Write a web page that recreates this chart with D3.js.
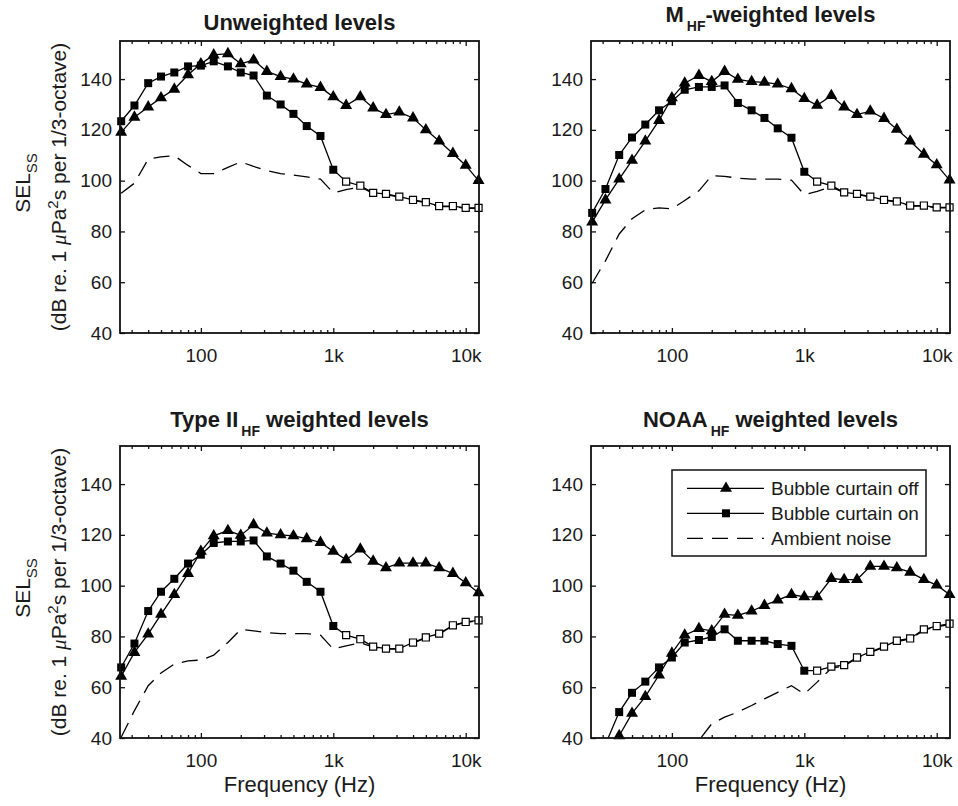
<!DOCTYPE html>
<html>
<head>
<meta charset="utf-8">
<script src="https://d3js.org/d3.v7.min.js"></script>
<style>
body { margin: 0; background: #fff; }
svg { font-family: "Liberation Sans", Arial, Helvetica, sans-serif; fill: #1a1a1a; }
.tick text { font-size: 19px; fill: #1a1a1a; }
.tick line { stroke: #111; stroke-width: 1.3; }
</style>
</head>
<body>
<div id="chart"></div>
<script>
// 1/3-octave band centre frequencies (Hz)
var bands = [25, 31.5, 40, 50, 63, 80, 100, 125, 160, 200, 250, 315, 400, 500, 630, 800,
             1000, 1250, 1600, 2000, 2500, 3150, 4000, 5000, 6300, 8000, 10000, 12500];

// first band where the "on" curve is not above ambient (open squares)
var firstOpenBand = 1250;

// Unweighted levels
var unwOff = [119, 125, 129, 132.6, 136, 141.7, 146, 149.5, 150, 146, 147.5, 143, 141, 140, 138, 136.7,
              133, 129.6, 133, 128.6, 126, 127, 124.7, 120, 115.6, 110.7, 106, 100];
var unwOn  = [123.4, 129.6, 138.4, 141, 142.6, 145, 145.3, 147, 145, 142.6, 141.4, 133.5, 130, 126.3, 121.5, 117.6,
              104.3, 99.6, 98, 95.2, 94.8, 93.7, 92.4, 91.5, 90, 90, 89.3, 89.3];
var unwAmb = [95, 99, 108.5, 109.4, 109.8, 106, 102.8, 102.8, 105.2, 107.4, 105.6, 104, 102.8, 102.2, 101.5, 100.6,
              95.2, 96.5, 97.5, 95, 94.5, 93.5, 92.2, 91.3, 89.8, 89.8, 89.1, 89.1];

// M_HF-weighted levels
var mhfOff = [83.7, 92.4, 100.6, 108, 115.6, 123.7, 132.6, 138.4, 141.4, 139, 143, 139.9, 139, 138.7, 138, 136.2,
              132.3, 129.7, 133.5, 129, 126, 127.4, 124.5, 120.2, 115.6, 110.4, 106.2, 100.2];
var mhfOn  = [87.3, 96.7, 110.1, 117, 122.1, 127.7, 131.3, 135.8, 136.9, 136.9, 137.5, 130.6, 127.7, 124.7, 120.6, 116.9,
              103.5, 99.6, 98, 95.4, 94.8, 93.7, 92.4, 91.8, 90.2, 90.2, 89.5, 89.5];
var mhfAmb = [59.6, 68.4, 79, 85, 88.5, 89.3, 88.9, 92.2, 96, 102, 101.7, 101, 100.6, 100.6, 100.6, 100.2,
              94.5, 95.8, 97.6, 95.2, 94.6, 93.5, 92.2, 91.6, 90, 90, 89.3, 89.3];

// Type II_HF weighted levels
var t2Off = [64.3, 73.7, 80.9, 88.7, 96.5, 104.8, 113.5, 119.6, 121.7, 119.8, 124, 120.7, 120, 119.6, 118.5, 117,
             113.5, 110.2, 114.4, 109.6, 107, 108.9, 108.9, 108.9, 107, 104.8, 101.1, 97.2];
var t2On  = [67.8, 77.2, 90, 97.6, 102.7, 108.7, 112.2, 116.8, 117.4, 117.4, 117.8, 111.5, 108.7, 105.9, 101.5, 97.6,
             84.1, 80.5, 78.9, 76, 75.2, 75.2, 77.6, 79.6, 81.1, 84.4, 85.7, 86.3];
var t2Amb = [40.3, 50.8, 60.6, 65.6, 69.1, 70.4, 70.7, 72.6, 77.6, 82.8, 82.2, 81.5, 81.1, 81.1, 81.1, 80.5,
             75, 76.3, 77.5, 75.8, 75, 75, 77.4, 79.4, 80.9, 84.2, 85.5, 86.1];

// NOAA_HF weighted levels (null = not given, values < 40 fall below the axis)
var noaaOff = [null, 32, 40.9, 49.7, 56.3, 64.8, 73.4, 80.5, 83.1, 82.2, 88.7, 88.3, 90, 92.2, 94.3, 96.5,
               95.6, 95.6, 102.8, 102.4, 102.4, 107.6, 107.6, 107, 105.3, 102.4, 100.2, 96.5];
var noaaOn  = [null, 37.5, 50.2, 57.8, 62.2, 67.8, 71.7, 77.6, 78.6, 79.8, 82.8, 78.3, 78.3, 78.3, 77, 76.3,
               66.5, 66.5, 68.1, 68.7, 71.7, 73.9, 76, 78.3, 79.2, 82.8, 84.1, 85];
var noaaAmb = [null, null, null, null, null, null, null, 33, 39, 45.6, 48.2, 50.2, 52.8, 55.4, 58, 60.6,
               57.3, 62, 67.5, 68.4, 71.4, 73.6, 75.8, 78, 79, 82.5, 83.8, 84.7];

// axis ticks
var xTicks = [100, 1000, 10000];
var xTickLabels = ["100", "1k", "10k"];
var yTicks = [40, 60, 80, 100, 120, 140];
var xDomain = [24.5, 12600];
var yDomain = [40, 155];

var legendLabels = ["Bubble curtain off", "Bubble curtain on", "Ambient noise"];

var W = 958, H = 806;
var pw = 359, ph = 292;

var panels = [
	{pre: "Unweighted levels", sub: "", post: "", off: unwOff, on: unwOn, amb: unwAmb,
	 left: 120, top: 41, ylab: true, xlab: false, legend: false},
	{pre: "M", sub: "HF", post: "-weighted levels", off: mhfOff, on: mhfOn, amb: mhfAmb,
	 left: 591, top: 41, ylab: false, xlab: false, legend: false},
	{pre: "Type II", sub: "HF", post: " weighted levels", off: t2Off, on: t2On, amb: t2Amb,
	 left: 120, top: 446, ylab: true, xlab: true, legend: false},
	{pre: "NOAA", sub: "HF", post: " weighted levels", off: noaaOff, on: noaaOn, amb: noaaAmb,
	 left: 591, top: 446, ylab: false, xlab: true, legend: true}
];

var svg = d3.select("#chart").append("svg")
	.attr("width", W)
	.attr("height", H);

svg.append("rect").attr("width", W).attr("height", H).attr("fill", "#fff");

panels.forEach(function(p, i){ drawPanel(p, i); });

function series(vals){
	return bands.map(function(f, i){ return {f: f, v: vals[i]}; });
}

function drawPanel(p, idx){
	var g = svg.append("g")
		.attr("transform", "translate(" + p.left + "," + p.top + ")");

	var x = d3.scaleLog().domain(xDomain).range([0, pw]);
	var y = d3.scaleLinear().domain(yDomain).range([ph, 0]);

	// clip for the lines (markers stay unclipped like matlab)
	var clipId = "clip" + idx;
	g.append("clipPath").attr("id", clipId)
	  .append("rect").attr("width", pw).attr("height", ph);

	// minor log ticks
	var minor = x.ticks().filter(function(d){ return xTicks.indexOf(d) < 0; });

	// bottom + top axes
	g.append("g").attr("transform", "translate(0," + ph + ")")
		.call(d3.axisBottom(x).tickValues(xTicks)
			.tickFormat(function(d, i){ return xTickLabels[i]; })
			.tickSize(-5).tickPadding(15.5));
	g.append("g").attr("transform", "translate(0," + ph + ")")
		.call(d3.axisBottom(x).tickValues(minor).tickFormat("").tickSize(-3));
	g.append("g")
		.call(d3.axisTop(x).tickValues(xTicks).tickFormat("").tickSize(-5));
	g.append("g")
		.call(d3.axisTop(x).tickValues(minor).tickFormat("").tickSize(-3));

	// left + right axes
	g.append("g")
		.call(d3.axisLeft(y).tickValues(yTicks).tickSize(-5).tickPadding(8));
	g.append("g").attr("transform", "translate(" + pw + ",0)")
		.call(d3.axisRight(y).tickValues(yTicks).tickFormat("").tickSize(-5));

	g.selectAll(".domain").remove();

	var offData = series(p.off), onData = series(p.on), ambData = series(p.amb);

	var line = d3.line()
		.defined(function(d){ return d.v != null; })
		.x(function(d){ return x(d.f); })
		.y(function(d){ return y(d.v); });

	var plot = g.append("g");
	var lines = plot.append("g").attr("clip-path", "url(#" + clipId + ")");

	lines.append("path").datum(offData)
		.attr("d", line).attr("fill", "none")
		.attr("stroke", "#000").attr("stroke-width", 1.3);
	lines.append("path").datum(onData)
		.attr("d", line).attr("fill", "none")
		.attr("stroke", "#000").attr("stroke-width", 1.3);
	lines.append("path").datum(ambData)
		.attr("d", line).attr("fill", "none")
		.attr("stroke", "#000").attr("stroke-width", 1.3)
		.attr("stroke-dasharray", "16,9");

	var visible = function(d){ return d.v != null && d.v >= yDomain[0]; };

	// triangles
	plot.selectAll(".tri").data(offData.filter(visible)).enter()
		.append("path")
		  .attr("class", "tri")
		  .attr("transform", function(d){ return "translate(" + x(d.f) + "," + y(d.v) + ")"; })
		  .attr("d", d3.symbol().type(d3.symbolTriangle).size(62))
		  .attr("fill", "#000");

	// squares, open ones drawn white
	plot.selectAll(".sq").data(onData.filter(visible)).enter()
		.append("path")
		  .attr("class", "sq")
		  .attr("transform", function(d){ return "translate(" + x(d.f) + "," + y(d.v) + ")"; })
		  .attr("d", function(d){
			return d3.symbol().type(d3.symbolSquare).size(d.f >= firstOpenBand ? 50 : 64)();
		  })
		  .attr("fill", function(d){ return d.f >= firstOpenBand ? "#fff" : "#000"; })
		  .attr("stroke", "#000")
		  .attr("stroke-width", function(d){ return d.f >= firstOpenBand ? 1.2 : 0; });

	// frame
	g.append("rect")
		.attr("width", pw).attr("height", ph)
		.attr("fill", "none").attr("stroke", "#111").attr("stroke-width", 1.8);

	// title
	var t = g.append("text")
		.attr("x", pw / 2)
		.attr("y", p.sub ? -19 : -11)
		.attr("text-anchor", "middle")
		.style("font-size", "22px")
		.style("font-weight", "bold");
	t.append("tspan").text(p.pre);
	if(p.sub){
		t.append("tspan").attr("dx", 3).attr("dy", 9).style("font-size", "14px").text(p.sub);
		t.append("tspan").attr("dy", -9).text(p.post);
	}

	// y label
	if(p.ylab){
		var l1 = g.append("text")
			.attr("transform", "translate(" + (30 - p.left) + "," + (ph / 2 - 4) + ") rotate(-90)")
			.attr("text-anchor", "middle")
			.style("font-size", "21px");
		l1.append("tspan").text("SEL");
		l1.append("tspan").attr("dy", 7).style("font-size", "15px").text("SS");

		var l2 = g.append("text")
			.attr("transform", "translate(" + (65.5 - p.left) + "," + (ph / 2) + ") rotate(-90)")
			.attr("text-anchor", "middle")
			.style("font-size", "21px");
		l2.append("tspan").text("(dB re. 1 ");
		l2.append("tspan").style("font-family", "'Liberation Serif', serif")
			.style("font-style", "italic").text("\u03bc");
		l2.append("tspan").text("Pa");
		l2.append("tspan").attr("dy", -8).style("font-size", "15px").text("2");
		l2.append("tspan").attr("dy", 8).text("s per 1/3-octave)");
	}

	// x label
	if(p.xlab){
		g.append("text")
			.attr("x", pw / 2)
			.attr("y", ph + 54)
			.attr("text-anchor", "middle")
			.style("font-size", "22px")
			.text("Frequency (Hz)");
	}

	if(p.legend) drawLegend(g);
}

function drawLegend(g){
	var lg = g.append("g").attr("transform", "translate(81,24)");
	lg.append("rect")
		.attr("width", 254).attr("height", 86)
		.attr("fill", "#fff").attr("stroke", "#111").attr("stroke-width", 1.5);

	var rows = [18.3, 43.3, 68.3];
	legendLabels.forEach(function(lab, i){
		var r = lg.append("g").attr("transform", "translate(0," + rows[i] + ")");
		var ln = r.append("line")
			.attr("x1", 15).attr("x2", 92)
			.attr("stroke", "#000").attr("stroke-width", 1.3);
		if(i == 2) ln.attr("stroke-dasharray", "16,9");
		if(i == 0){
			r.append("path").attr("transform", "translate(54,0)")
				.attr("d", d3.symbol().type(d3.symbolTriangle).size(62)).attr("fill", "#000");
		}
		if(i == 1){
			r.append("path").attr("transform", "translate(54,0)")
				.attr("d", d3.symbol().type(d3.symbolSquare).size(64)).attr("fill", "#000");
		}
		r.append("text")
			.attr("x", 99).attr("y", 7)
			.style("font-size", "19px")
			.text(lab);
	});
}
</script>
</body>
</html>
